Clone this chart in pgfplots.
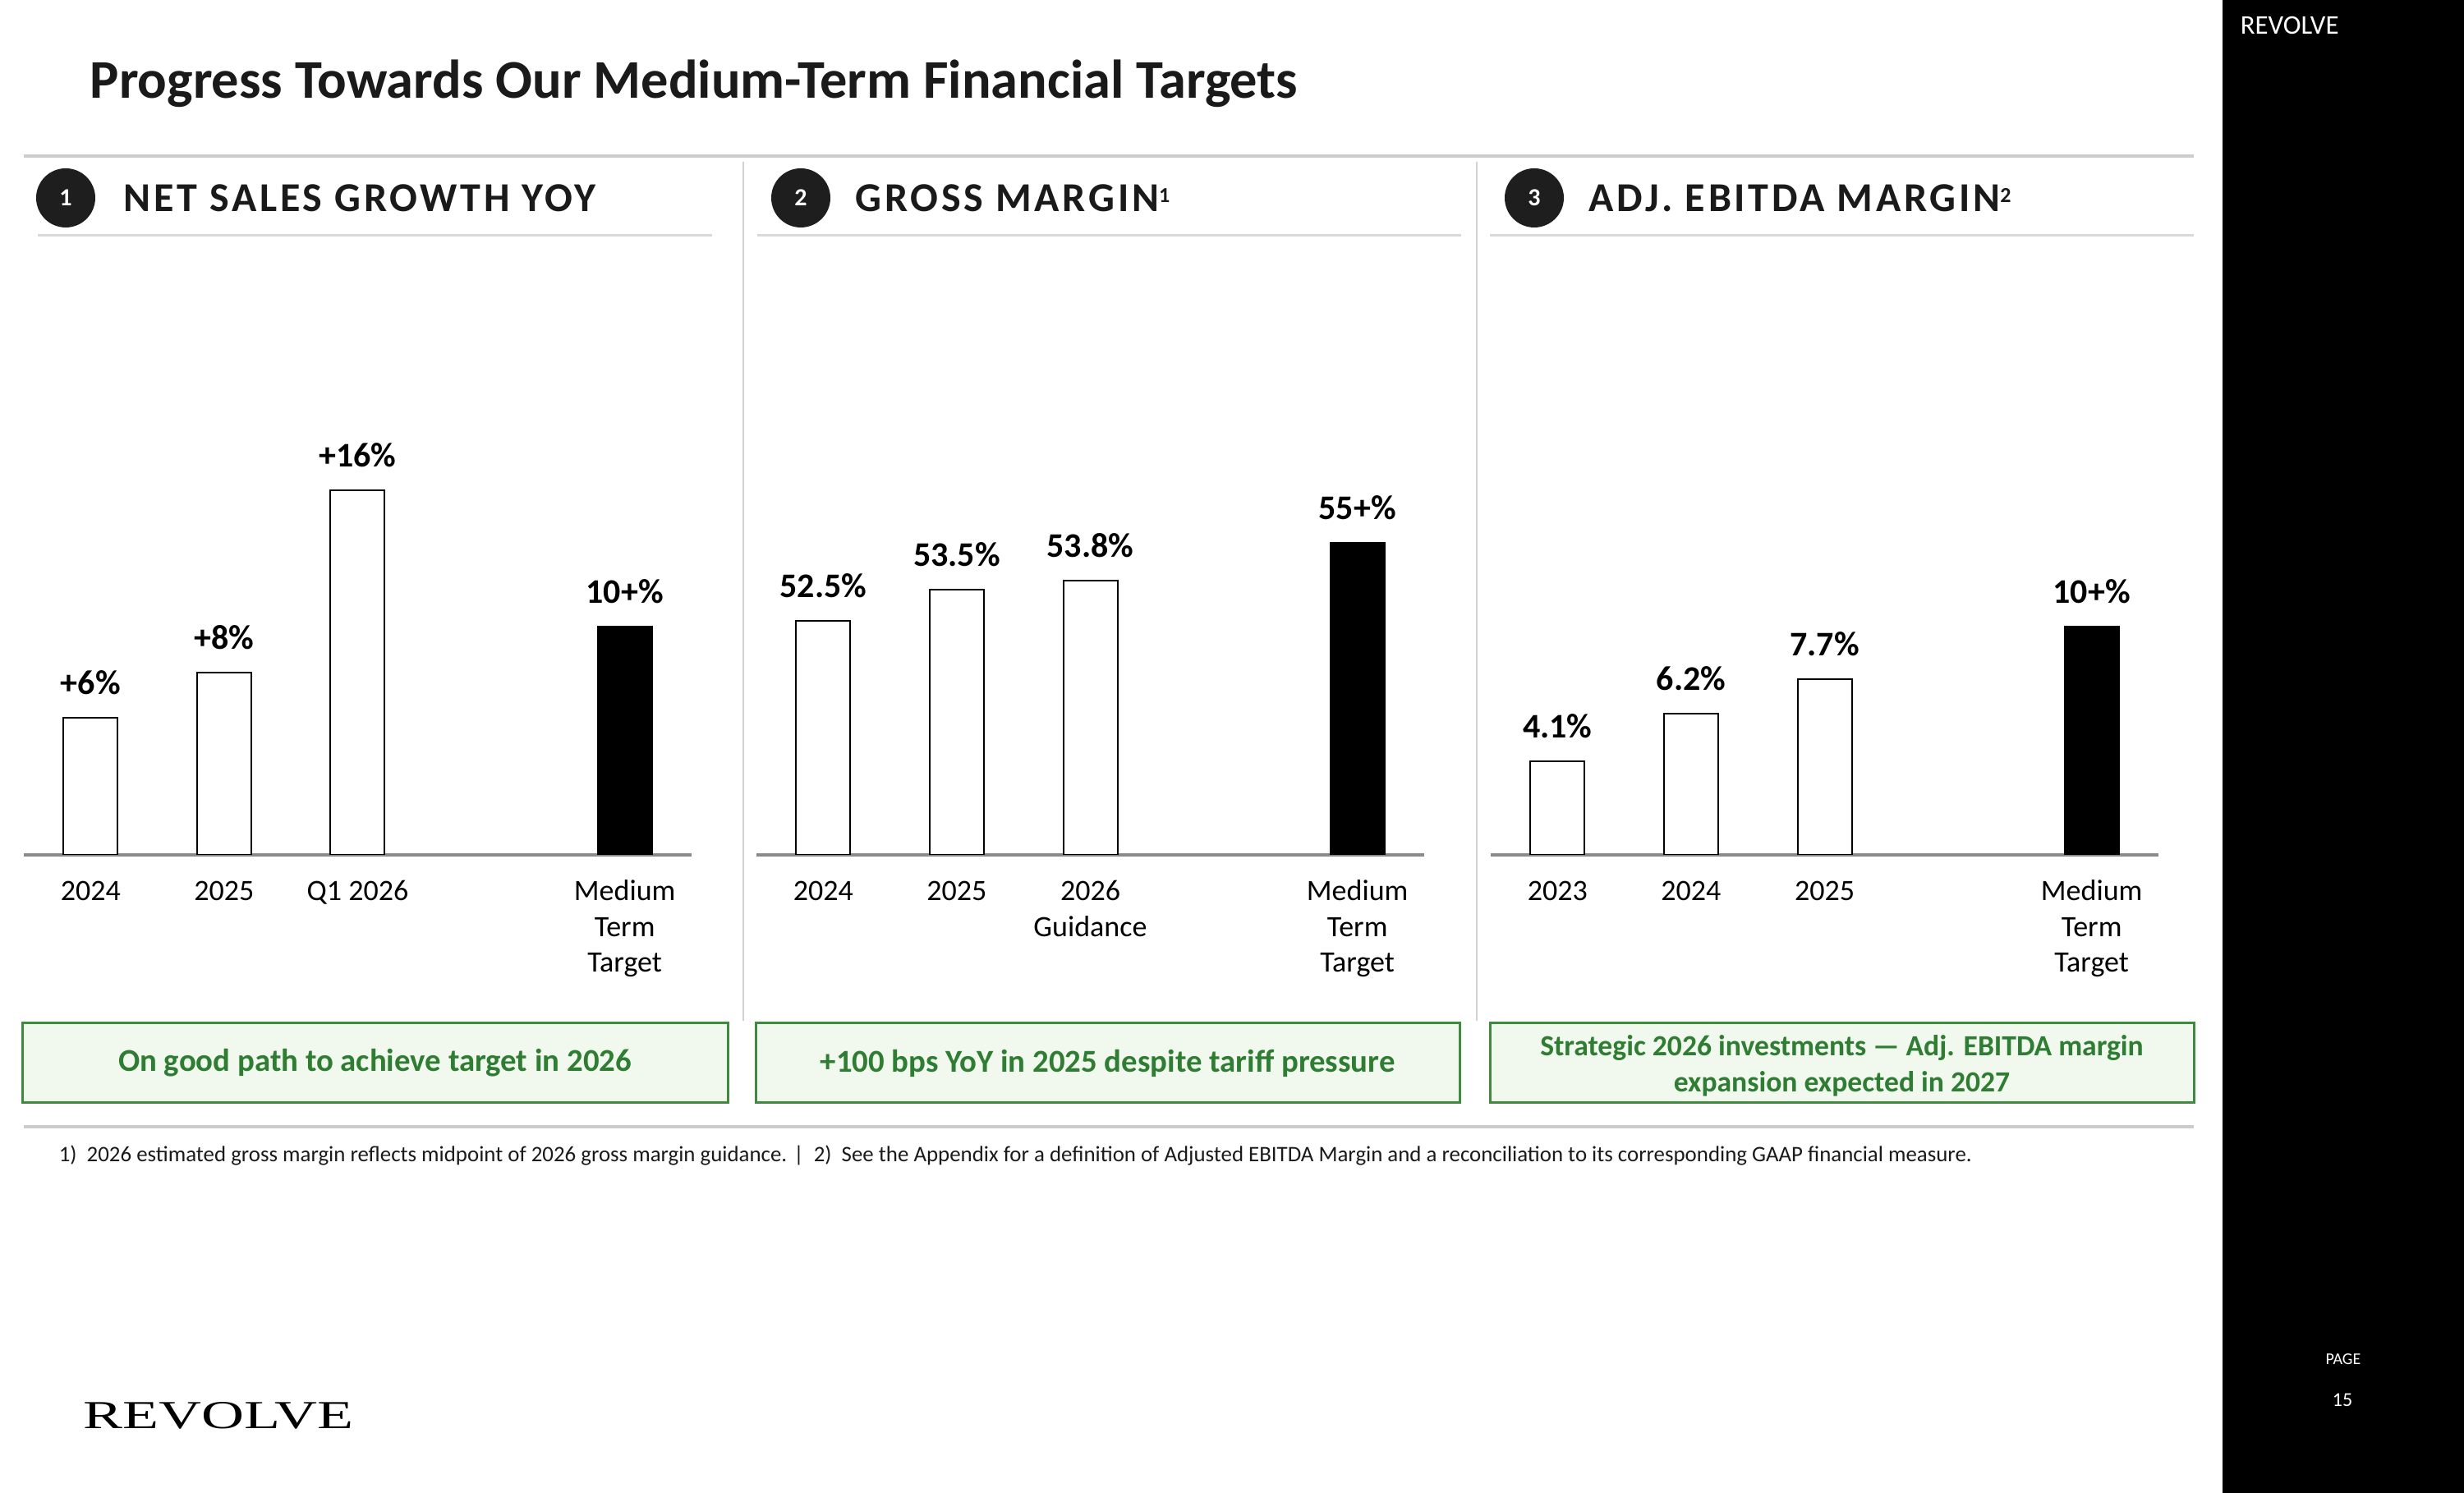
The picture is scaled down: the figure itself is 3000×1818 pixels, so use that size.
\documentclass[border=0pt]{standalone}
\usepackage{fontspec}
\setmainfont{Carlito}
\newfontfamily\hdrfont[LetterSpace=7.5]{Carlito}
\newfontfamily\logofont{Liberation Serif}
\usepackage{graphicx}
\usepackage{pgfplots}
\usepackage{pgfplotstable}
\pgfplotsset{compat=1.18}

\definecolor{rulegray}{HTML}{CCCCCC}
\definecolor{sepgray}{HTML}{D2D2D2}
\definecolor{axisgray}{HTML}{8A8A8A}
\definecolor{darkdot}{HTML}{1E1E1E}
\definecolor{inkblack}{HTML}{1A1A1A}
\definecolor{boxfill}{HTML}{F1F8EE}
\definecolor{boxedge}{HTML}{3F8A3F}
\definecolor{boxtext}{HTML}{2E7D32}

% Net sales growth YoY (%)
\pgfplotstableread{
x y label
0 6 +6
1 8 +8
2 16 +16
}\salesActual
\pgfplotstableread{
x y label
4 10 10+
}\salesTarget

% Gross margin (%)
\pgfplotstableread{
x y label
0 52.5 52.5
1 53.5 53.5
2 53.8 53.8
}\gmActual
\pgfplotstableread{
x y label
4 55 55+
}\gmTarget

% Adj. EBITDA margin (%)
\pgfplotstableread{
x y label
0 4.1 4.1
1 6.2 6.2
2 7.7 7.7
}\ebitdaActual
\pgfplotstableread{
x y label
4 10 10+
}\ebitdaTarget

\pgfplotsset{
  panel/.style={
    scale only axis, width=203.25pt, height=125pt, anchor=south west,
    xmin=-0.5, xmax=4.5, ymin=0, ymax=18,
    axis x line=bottom, axis y line=none,
    x axis line style={-, draw=axisgray, line width=0.9pt},
    xtick={0,1,2,4}, major tick length=0pt, xtick style={draw=none},
    typeset ticklabels with strut,
    xticklabel style={font=\fontsize{9}{10.8}\selectfont, align=center, text=black, yshift=-2.9pt},
    ytick=\empty,
    ybar, bar width=16.5pt,
    point meta=explicit symbolic,
    nodes near coords={\pgfplotspointmeta\%},
    nodes near coords style={font=\bfseries\fontsize{10.5}{12}\selectfont,
      anchor=south, inner sep=0pt, yshift=6.75pt, text=black},
  },
  hollow/.style={draw=black, line width=0.5pt, fill=white, bar shift=0pt},
  target/.style={draw=black, line width=0.5pt, fill=black, bar shift=0pt},
}

\begin{document}
\begin{tikzpicture}[x=0.25pt,y=0.25pt]
\useasboundingbox (0,0) rectangle (3000,1818);
\fill[white] (0,0) rectangle (3000,1818);
\fill[black] (2706,0) rectangle (3000,1818);

% side bar texts
\node[anchor=west, inner sep=0, text=white, font=\fontsize{8.2}{10}\selectfont] at (2727,1787) {REVOLVE};
\node[text=white, inner sep=0, font=\fontsize{5}{6}\selectfont] at (2853,163) {PAGE};
\node[text=white, inner sep=0, font=\fontsize{6}{7}\selectfont] at (2852,113) {15};

% title
\node[anchor=base west, inner sep=0, text=inkblack, font=\bfseries\fontsize{16.6}{19}\selectfont]
  at (109,1698) {Progress Towards Our Medium-Term Financial Targets};

% rules
\draw[rulegray, line width=1pt] (29,1628) -- (2671,1628);
\draw[sepgray, line width=0.7pt] (905,1621) -- (905,575);
\draw[sepgray, line width=0.7pt] (1798,1621) -- (1798,575);
\draw[sepgray!85, line width=0.75pt] (46,1531) -- (867,1531);
\draw[sepgray!85, line width=0.75pt] (922,1531) -- (1779,1531);
\draw[sepgray!85, line width=0.75pt] (1814,1531) -- (2671,1531);
\draw[rulegray, line width=1pt] (29,446) -- (2671,446);

% panel headers
\foreach \cx/\n in {80/1, 975/2, 1868/3} {
  \fill[darkdot] (\cx,1577) circle[radius=9pt];
  \node[text=white, inner sep=0, font=\bfseries\fontsize{7.5}{9}\selectfont] at (\cx,1577) {\n};
}
\node[anchor=base west, inner sep=0, text=inkblack, font=\hdrfont\bfseries\fontsize{12.5}{14}\selectfont]
  at (150,1560) {NET SALES GROWTH YOY};
\node[anchor=base west, inner sep=0, text=inkblack, font=\hdrfont\bfseries\fontsize{12.5}{14}\selectfont]
  at (1041,1560) {GROSS MARGIN\raisebox{2.8pt}{\fontsize{6.5}{7}\selectfont 1}};
\node[anchor=base west, inner sep=0, text=inkblack, font=\hdrfont\bfseries\fontsize{12.5}{14}\selectfont]
  at (1934,1560) {ADJ. EBITDA MARGIN\raisebox{2.8pt}{\fontsize{6.5}{7}\selectfont 2}};

% panel 1: net sales growth
\begin{axis}[panel, at={(7.25pt,194.25pt)},
  xticklabels={2024,2025,Q1 2026,{Medium\\Term\\Target}}]
  \addplot[hollow] table[x=x, y=y, meta=label] {\salesActual};
  \addplot[target] table[x=x, y=y, meta=label] {\salesTarget};
\end{axis}

% panel 2: gross margin
\begin{axis}[panel, at={(230.25pt,194.25pt)}, ymin=45, ymax=58.16,
  xticklabels={2024,2025,{2026\\Guidance},{Medium\\Term\\Target}}]
  \addplot[hollow] table[x=x, y=y, meta=label] {\gmActual};
  \addplot[target] table[x=x, y=y, meta=label] {\gmTarget};
\end{axis}

% panel 3: adj. EBITDA margin
\begin{axis}[panel, at={(453.75pt,194.25pt)},
  xticklabels={2023,2024,2025,{Medium\\Term\\Target}}]
  \addplot[hollow] table[x=x, y=y, meta=label] {\ebitdaActual};
  \addplot[target] table[x=x, y=y, meta=label] {\ebitdaTarget};
\end{axis}

% takeaway boxes
\tikzset{takeaway/.style={draw=boxedge, fill=boxfill, line width=0.75pt}}
\path[takeaway] (27,475) rectangle (886,572);
\path[takeaway] (920,475) rectangle (1777,572);
\path[takeaway] (1814,475) rectangle (2671,572);
\node[text=boxtext, font=\bfseries\fontsize{9.7}{11}\selectfont] at (456.5,523.5)
  {On good path to achieve target in 2026};
\node[text=boxtext, font=\bfseries\fontsize{9.7}{11}\selectfont] at (1348.5,523.5)
  {+100 bps YoY in 2025 despite tariff pressure};
\node[text=boxtext, align=center, font=\bfseries\fontsize{8.9}{11.1}\selectfont] at (2242.5,520)
  {Strategic 2026 investments — Adj. EBITDA margin\\expansion expected in 2027};

% footnote
\node[anchor=base west, inner sep=0, text=inkblack, font=\fontsize{6.72}{8}\selectfont] at (71,403)
  {1)\ \ 2026 estimated gross margin reflects midpoint of 2026 gross margin guidance. |\ \ 2)\ \ See the Appendix for a definition of Adjusted EBITDA Margin and a reconciliation to its corresponding GAAP financial measure.};

% logo
\node[anchor=south west, inner sep=0] at (101,77) {\resizebox{82.25pt}{8pt}{\logofont REVOLVE}};
\end{tikzpicture}
\end{document}
